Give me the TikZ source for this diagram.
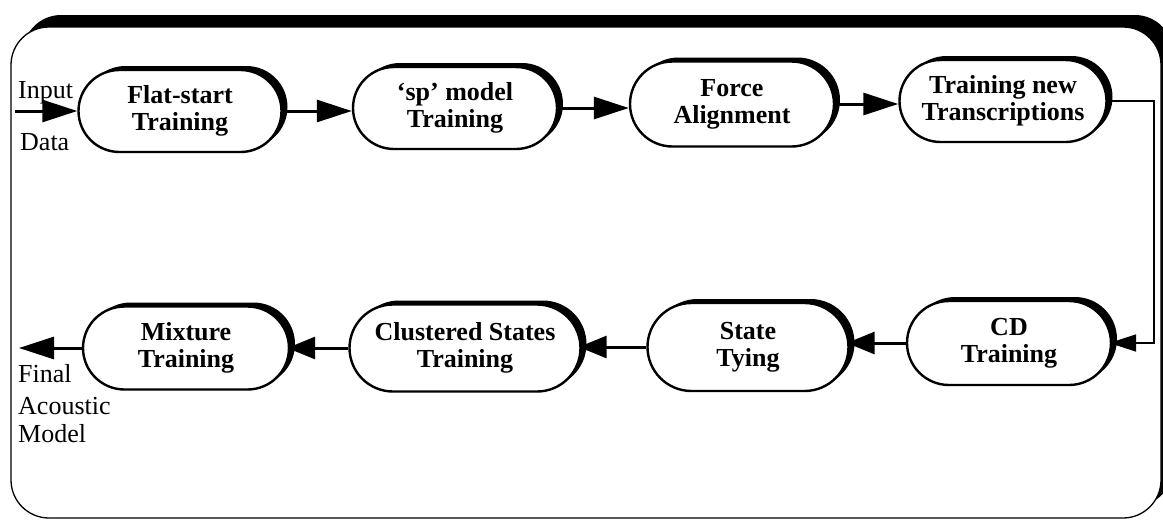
\documentclass[tikz,border=0pt]{standalone}
\usepackage{fontspec}
\setmainfont{Liberation Serif}
\usetikzlibrary{shapes.misc,arrows.meta,shadows}
\begin{document}
\begin{tikzpicture}[x=1pt,y=-1pt,
  proc/.style={rounded rectangle, draw, line width=2.4pt, fill=white, align=center,
    inner sep=0pt, font=\bfseries\fontsize{26}{27}\selectfont,
    drop shadow={shadow xshift=6pt, shadow yshift=4pt, opacity=1, fill=black}},
  lab/.style={anchor=base west, inner sep=0pt, font=\fontsize{26}{28}\selectfont},
  big/.style={-{Triangle[length=35pt,width=22pt]}, line width=3pt},
  mid/.style={-{Triangle[length=28pt,width=22pt]}, line width=3pt, shorten >=-3pt},
  thin/.style={-{Triangle[length=27pt,width=17pt]}, line width=1.8pt, shorten >=-3pt}]
\useasboundingbox (0,0) rectangle (1163,520);
\clip (0,0) rectangle (1163,520);
% frame with shadow
\fill[black, rounded corners=38pt] (23,15) rectangle (1173,506);
\draw[line width=1.3pt, fill=white, rounded corners=38pt] (11,27) rectangle (1161,518);
% nodes
\node[proc, minimum width=203pt, minimum height=82pt] (n1) at (180,111) {Flat-start\\Training};
\node[proc, minimum width=204pt, minimum height=82pt] (n2) at (455,108) {`sp' model\\Training};
\node[proc, minimum width=204pt, minimum height=85pt] (n3) at (732,104) {Force\\Alignment};
\node[proc, minimum width=207pt, minimum height=82pt] (n4) at (1003,101) {Training new\\Transcriptions};
\node[proc, minimum width=204pt, minimum height=84pt] (n5) at (1009,343) {CD\\Training};
\node[proc, minimum width=201pt, minimum height=88pt] (n6) at (748,347) {State\\Tying};
\node[proc, minimum width=231pt, minimum height=87pt] (n7) at (465,348) {Clustered States\\Training};
\node[proc, minimum width=206pt, minimum height=83pt] (n8) at (186,348) {Mixture\\Training};
% labels
\node[lab] (tin) at (18,98) {Input};
\node[lab] (tdata) at (20,150) {Data};
\node[lab] (tfinal) at (18,382) {Final};
\node[lab] (tac) at (18,414) {Acoustic};
\node[lab] (tmod) at (18,442) {Model};
% connectors
\coordinate (in) at (15,111);
\coordinate (out) at (19,348);
\coordinate (cR) at (1154,220);
\draw[big] (in) -- (n1.west);
\draw[big] (n1.east) -- (n1.east -| n2.west);
\draw[big] (n2.east) -- (n2.east -| n3.west);
\draw[big] (n3.east) -- (n3.east -| n4.west);
\draw[thin] (n4.east) -| (cR) |- (n5.east);
\draw[mid] (n5.west) -- (n5.west -| n6.east);
\draw[mid] (n6.west) -- (n6.west -| n7.east);
\draw[mid] (n7.west) -- (n7.west -| n8.east);
\draw[big] (n8.west) -- (out);
\end{tikzpicture}
\end{document}
